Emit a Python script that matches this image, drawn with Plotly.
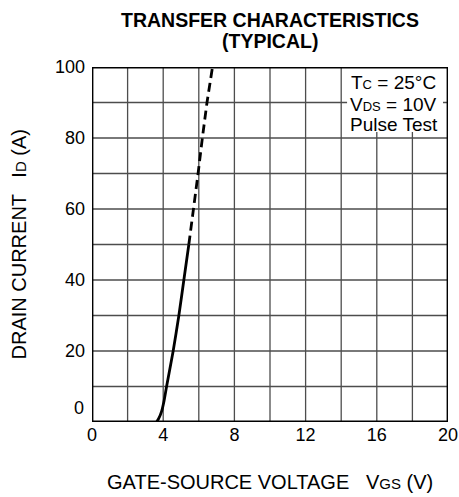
import plotly.graph_objects as go

# Solid (measured) portion
vgs_solid = [3.63, 3.75, 3.91, 4.05, 4.19, 4.56, 4.88, 5.16, 5.44]
id_solid = [0, 1, 3, 6, 10, 20, 30, 40, 50]
# Dashed (extrapolated) portion
vgs_dash = [5.44, 5.72, 5.96, 6.20, 6.46, 6.77]
id_dash = [50, 60, 70, 80, 90, 100]

x_ticks = [0, 4, 8, 12, 16, 20]
y_ticks = [20, 40, 60, 80, 100]
x_grid = [2, 4, 6, 8, 10, 12, 14, 16, 18]
y_grid = [10, 20, 30, 40, 50, 60, 70, 80, 90]

cond_lines = ["T<span style='font-size:13px'>C</span> = 25°C",
              "V<span style='font-size:13px'>DS</span> = 10V",
              "Pulse Test"]

FONT = "Liberation Sans, Arial, sans-serif"
GRID = "#4d4d4d"

fig = go.Figure()
fig.add_trace(go.Scatter(x=vgs_solid, y=id_solid, mode="lines",
                         line=dict(color="black", width=2.8, shape="spline", smoothing=0.6),
                         showlegend=False, hoverinfo="skip"))
fig.add_trace(go.Scatter(x=vgs_dash, y=id_dash, mode="lines",
                         line=dict(color="black", width=2.8, dash="9px,5px"),
                         showlegend=False, hoverinfo="skip"))

shapes = []
for gx in x_grid:
    shapes.append(dict(type="line", xref="x", yref="y", x0=gx, x1=gx, y0=0, y1=100,
                       line=dict(color=GRID, width=1.3), layer="below"))
for gy in y_grid:
    shapes.append(dict(type="line", xref="x", yref="y", x0=0, x1=20, y0=gy, y1=gy,
                       line=dict(color=GRID, width=1.3), layer="below"))
# white backing for the conditions text
shapes.append(dict(type="rect", xref="x", yref="y", x0=14.33, x1=19.72, y0=81.7, y1=100,
                   line=dict(width=0), fillcolor="white", layer="above"))
shapes.append(dict(type="rect", xref="x", yref="y", x0=0, x1=20, y0=0, y1=100,
                   line=dict(color="black", width=2.8), layer="above"))

fig.update_layout(
    width=459, height=497,
    margin=dict(l=92, r=11, t=67, b=75),
    paper_bgcolor="white", plot_bgcolor="white",
    font=dict(family=FONT, color="black"),
    shapes=shapes,
    xaxis=dict(range=[0, 20], tickvals=x_ticks, ticktext=[str(v) for v in x_ticks],
               showgrid=False, zeroline=False, showline=False, ticks="",
               tickfont=dict(size=18), ticklabelstandoff=0, automargin=False),
    yaxis=dict(range=[0, 100], tickvals=y_ticks, ticktext=[str(v) for v in y_ticks],
               showgrid=False, zeroline=False, showline=False, ticks="",
               tickfont=dict(size=18), ticklabelstandoff=6, automargin=False),
)

annotations = [
    dict(text="<b>TRANSFER CHARACTERISTICS</b>", xref="paper", yref="paper",
         x=0.5, y=1, xanchor="center", yanchor="middle", yshift=47,
         showarrow=False, font=dict(size=19.5)),
    dict(text="<b>(TYPICAL)</b>", xref="paper", yref="paper",
         x=0.5, y=1, xanchor="center", yanchor="middle", yshift=26,
         showarrow=False, font=dict(size=19.5)),
    dict(text="0", xref="paper", yref="y", x=0, y=0, xanchor="right", yanchor="middle",
         xshift=-6, yshift=14, showarrow=False, font=dict(size=18)),
    dict(text="GATE-SOURCE VOLTAGE   V<span style='font-size:15px'>GS</span> (V)",
         xref="paper", yref="paper", x=0.5, y=0, xanchor="center", yanchor="middle",
         yshift=-60, showarrow=False, font=dict(size=20)),
    dict(text="DRAIN CURRENT   I<span style='font-size:15px'>D</span> (A)",
         xref="paper", yref="paper", x=0, y=0.5, xanchor="center", yanchor="middle",
         xshift=-74, textangle=-90, showarrow=False, font=dict(size=20)),
]
for txt, dy in zip(cond_lines, [-15.5, -37, -57]):
    annotations.append(dict(text=txt, xref="x", yref="paper", x=16.94, y=1,
                            xanchor="center", yanchor="middle", yshift=dy,
                            showarrow=False, font=dict(size=19)))
fig.update_layout(annotations=annotations)

fig.write_html("out.html", config={"displayModeBar": False},
               post_script="document.body.style.margin='0';")
